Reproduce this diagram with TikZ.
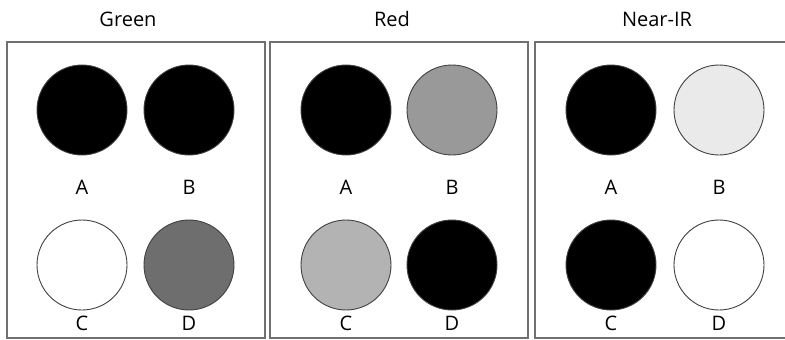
\documentclass[tikz,border=0pt]{standalone}
\usepackage{fontspec}
\setmainfont{Open Sans}
\usetikzlibrary{positioning}
\definecolor{frame}{HTML}{707070}
\definecolor{rim}{HTML}{404040}
\definecolor{grey1}{HTML}{6E6E6E}
\definecolor{grey2}{HTML}{999999}
\definecolor{grey3}{HTML}{B3B3B3}
\definecolor{grey4}{HTML}{EAEAEA}

\begin{document}
\begin{tikzpicture}[
  x=1pt,y=-1pt,
  panel/.style={draw=frame,line width=1.8pt,minimum width=258pt,minimum height=296pt,inner sep=0pt},
  disc/.style={circle,draw=rim,line width=0.9pt,minimum size=90pt,inner sep=0pt,fill=#1},
  lbl/.style={font=\fontsize{20}{24}\selectfont,inner sep=0pt},
]
  \clip (0,0) rectangle (785,340);
  \fill[white] (0,0) rectangle (785,340);

  % Green
  \node[lbl] (tG) at (128,19) {Green};
  \node[panel] (pG) at (136,190) {};
  \node[disc=black] (gA) at (82,110) {};
  \node[disc=black] (gB) at (189,110) {};
  \node[disc=white] (gC) at (82,265) {};
  \node[disc=grey1] (gD) at (189,265) {};
  \node[lbl] (lgA) at (82,187) {A};
  \node[lbl] (lgB) at (189,187) {B};
  \node[lbl] (lgC) at (82,323) {C};
  \node[lbl] (lgD) at (189,323) {D};

  % Red
  \node[lbl] (tR) at (392,19) {Red};
  \node[panel] (pR) at (399,190) {};
  \node[disc=black] (rA) at (346,110) {};
  \node[disc=grey2] (rB) at (452,110) {};
  \node[disc=grey3] (rC) at (346,265) {};
  \node[disc=black] (rD) at (452,265) {};
  \node[lbl] (lrA) at (346,187) {A};
  \node[lbl] (lrB) at (452,187) {B};
  \node[lbl] (lrC) at (346,323) {C};
  \node[lbl] (lrD) at (452,323) {D};

  % Near-IR
  \node[lbl] (tN) at (657,19) {Near-IR};
  \node[panel] (pN) at (664,190) {};
  \node[disc=black] (nA) at (611,110) {};
  \node[disc=grey4] (nB) at (719,110) {};
  \node[disc=black] (nC) at (611,265) {};
  \node[disc=white] (nD) at (719,265) {};
  \node[lbl] (lnA) at (611,187) {A};
  \node[lbl] (lnB) at (719,187) {B};
  \node[lbl] (lnC) at (611,323) {C};
  \node[lbl] (lnD) at (719,323) {D};
\end{tikzpicture}
\end{document}
